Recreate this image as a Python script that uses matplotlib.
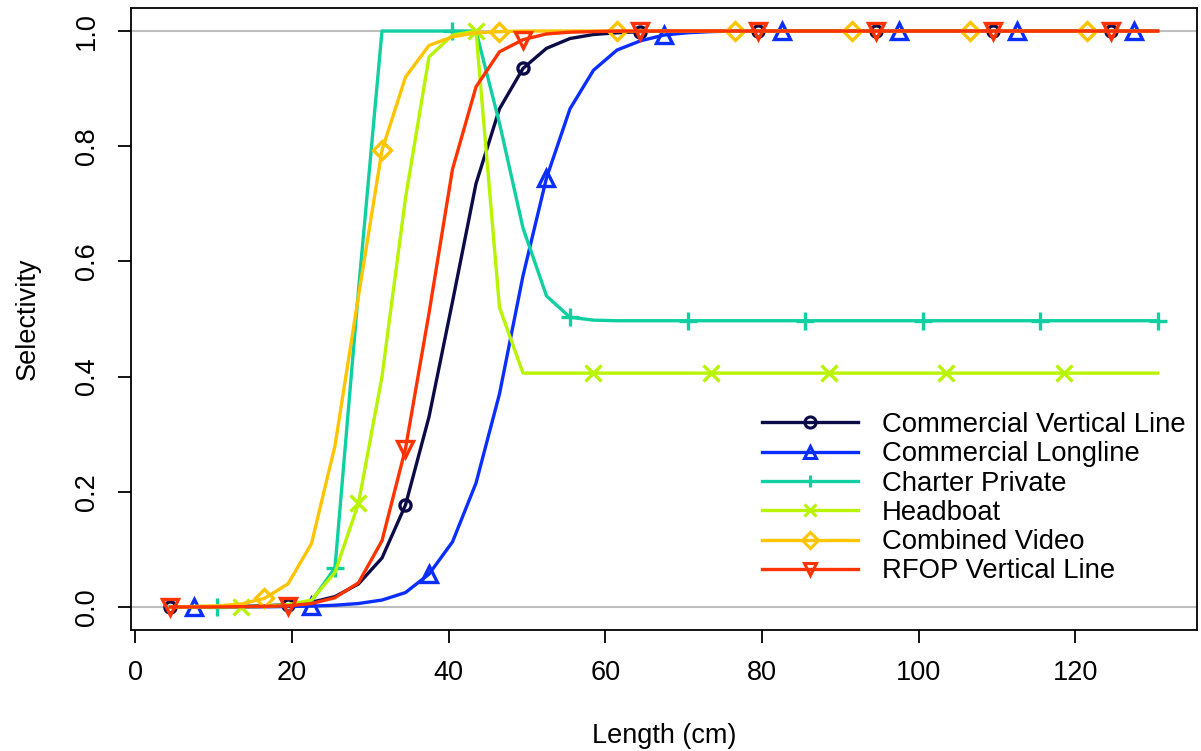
import matplotlib
matplotlib.use("Agg")
import matplotlib.pyplot as plt

plt.rcParams['font.family'] = ['Liberation Sans', 'DejaVu Sans']

# length bins (cm)
lengths = [4.5, 7.5, 10.5, 13.5, 16.5, 19.5, 22.5, 25.5, 28.5, 31.5, 34.5,
           37.5, 40.5, 43.5, 46.5, 49.5, 52.5, 55.5, 58.5, 61.5, 64.5, 67.5,
           70.5, 73.5, 76.5, 79.5, 82.5, 85.5, 88.5, 91.5, 94.5, 97.5, 100.5,
           103.5, 106.5, 109.5, 112.5, 115.5, 118.5, 121.5, 124.5, 127.5, 130.5]

comm_vl = [0.0, 0.0, 0.0005, 0.001, 0.002, 0.004, 0.008, 0.018, 0.04, 0.085,
           0.177, 0.33, 0.53, 0.735, 0.865, 0.935, 0.97, 0.987, 0.994, 0.997,
           0.999, 1.0, 1.0, 1.0, 1.0, 1.0, 1.0, 1.0, 1.0, 1.0, 1.0, 1.0, 1.0,
           1.0, 1.0, 1.0, 1.0, 1.0, 1.0, 1.0, 1.0, 1.0, 1.0]
comm_ll = [0.0, 0.0, 0.0, 0.0, 0.0003, 0.0008, 0.0015, 0.003, 0.006, 0.012,
           0.025, 0.057, 0.113, 0.215, 0.37, 0.575, 0.745, 0.865, 0.932, 0.967,
           0.983, 0.993, 0.997, 0.999, 1.0, 1.0, 1.0, 1.0, 1.0, 1.0, 1.0, 1.0,
           1.0, 1.0, 1.0, 1.0, 1.0, 1.0, 1.0, 1.0, 1.0, 1.0, 1.0]
charter = [0.0, 0.0, 0.0, 0.0005, 0.001, 0.003, 0.01, 0.068, 0.55, 1.0, 1.0,
           1.0, 1.0, 1.0, 0.84, 0.658, 0.54, 0.503, 0.498, 0.497, 0.497, 0.497,
           0.497, 0.497, 0.497, 0.497, 0.497, 0.497, 0.497, 0.497, 0.497, 0.497,
           0.497, 0.497, 0.497, 0.497, 0.497, 0.497, 0.497, 0.497, 0.497, 0.497,
           0.497]
headboat = [0.0, 0.0, 0.0, 0.0005, 0.001, 0.004, 0.012, 0.06, 0.18, 0.4, 0.71,
            0.955, 0.993, 1.0, 0.52, 0.406, 0.406, 0.406, 0.406, 0.406, 0.406,
            0.406, 0.406, 0.406, 0.406, 0.406, 0.406, 0.406, 0.406, 0.406,
            0.406, 0.406, 0.406, 0.406, 0.406, 0.406, 0.406, 0.406, 0.406,
            0.406, 0.406, 0.406, 0.406]
video = [0.0, 0.001, 0.002, 0.005, 0.015, 0.04, 0.11, 0.28, 0.54, 0.793, 0.92,
         0.975, 0.99, 0.997, 0.999, 1.0, 1.0, 1.0, 1.0, 1.0, 1.0, 1.0, 1.0,
         1.0, 1.0, 1.0, 1.0, 1.0, 1.0, 1.0, 1.0, 1.0, 1.0, 1.0, 1.0, 1.0, 1.0,
         1.0, 1.0, 1.0, 1.0, 1.0, 1.0]
rfop = [0.0, 0.0, 0.0, 0.0005, 0.001, 0.002, 0.006, 0.016, 0.042, 0.115, 0.275,
        0.51, 0.76, 0.903, 0.964, 0.985, 0.995, 0.998, 0.999, 1.0, 1.0, 1.0,
        1.0, 1.0, 1.0, 1.0, 1.0, 1.0, 1.0, 1.0, 1.0, 1.0, 1.0, 1.0, 1.0, 1.0,
        1.0, 1.0, 1.0, 1.0, 1.0, 1.0, 1.0]

labels = ["Commercial Vertical Line", "Commercial Longline", "Charter Private",
          "Headboat", "Combined Video", "RFOP Vertical Line"]
series = [comm_vl, comm_ll, charter, headboat, video, rfop]
colors = ["#0B0B48", "#0A2EFF", "#10CFA0", "#B8F400", "#FFC400", "#FF3300"]
markers = ["o", "^", "+", "x", "D", "v"]
msizes = [8, 11, 13, 11, 9, 11]
offsets = [0, 1, 2, 3, 4, 0]

fig = plt.figure(figsize=(12.01, 7.51), dpi=100)
ax = fig.add_axes([131 / 1201, 1 - 630 / 751, 1066 / 1201, 622 / 751])

ax.axhline(0, color="#BEBEBE", lw=1.5, zorder=1)
ax.axhline(1, color="#BEBEBE", lw=1.5, zorder=1)

for y, lab, c, m, ms, off in zip(series, labels, colors, markers, msizes, offsets):
    ax.plot(lengths, y, color=c, lw=2.4, marker=m, ms=ms, mfc="none",
            mec=c, mew=2.4, markevery=(off, 5), label=lab, zorder=2)

ax.set_xlim(-0.54, 135.54)
ax.set_ylim(-0.04, 1.04)
ax.set_xticks([0, 20, 40, 60, 80, 100, 120])
ax.set_yticks([0.0, 0.2, 0.4, 0.6, 0.8, 1.0])
ax.set_yticklabels(["0.0", "0.2", "0.4", "0.6", "0.8", "1.0"])
ax.tick_params(axis="both", direction="out", length=9.5, width=1.3,
               labelsize=19.5, color="black")
ax.tick_params(axis="x", pad=12)
ax.tick_params(axis="y", pad=13)
for lab in ax.get_yticklabels():
    lab.set_rotation(90)
    lab.set_va("center")

for s in ax.spines.values():
    s.set_linewidth(1.3)

ax.set_xlabel("Length (cm)", fontsize=19.5, labelpad=27)
ax.set_ylabel("Selectivity", fontsize=19.5, labelpad=24)

leg = ax.legend(loc="upper left", bbox_to_anchor=(762 / 1201, 1 - 412 / 751),
                bbox_transform=fig.transFigure, frameon=False, fontsize=19.8,
                handlelength=3.5, handletextpad=0.85, labelspacing=0.12,
                borderpad=0, borderaxespad=0, numpoints=1)
for h in leg.legend_handles:
    h.set_markersize(8)
    h.set_markeredgewidth(2.2)

fig.savefig("out.png", dpi=100)
